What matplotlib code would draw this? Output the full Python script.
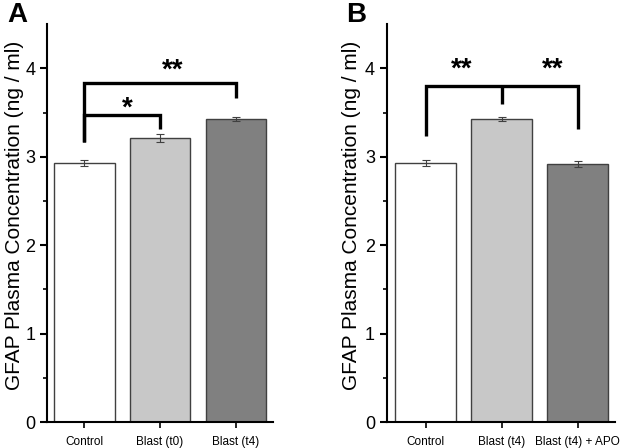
import matplotlib.pyplot as plt
import numpy as np

plt.rcParams['font.family'] = ['Liberation Sans', 'DejaVu Sans']

# panel A
labels_a = ["Control", "Blast (t0)", "Blast (t4)"]
means_a = [2.93, 3.21, 3.43]
errs_a = [0.035, 0.045, 0.025]

# panel B
labels_b = ["Control", "Blast (t4)", "Blast (t4) + APO"]
means_b = [2.93, 3.43, 2.92]
errs_b = [0.035, 0.025, 0.035]

colors = ["white", "#c8c8c8", "#808080"]

fig = plt.figure(figsize=(6.21, 4.48), dpi=100)
axA = fig.add_axes([0.0757, 0.058, 0.364, 0.888])
axB = fig.add_axes([0.623, 0.058, 0.367, 0.888])


def draw_panel(ax, labels, means, errs, xlim, label_x):
    x = np.arange(len(labels))
    ax.bar(x, means, width=0.8, color=colors, edgecolor="#404040", linewidth=1.0)
    ax.errorbar(x, means, yerr=errs, fmt="none", ecolor="#404040",
                elinewidth=0.8, capsize=3, capthick=0.8)
    ax.set_ylim(0, 4.5)
    ax.set_xlim(*xlim)
    ax.set_xticks(x)
    ax.set_xticklabels(labels, fontsize=8.5)
    ax.set_yticks([0, 1, 2, 3, 4])
    ax.set_yticks(np.arange(0.5, 4.5, 1.0), minor=True)
    ax.tick_params(axis="y", labelsize=13, width=1.5, length=5)
    ax.tick_params(axis="y", which="minor", width=1.2, length=3)
    ax.tick_params(axis="x", width=1.2, length=4, pad=6)
    ax.spines["top"].set_visible(False)
    ax.spines["right"].set_visible(False)
    ax.spines["left"].set_linewidth(1.5)
    ax.spines["bottom"].set_linewidth(1.5)
    ax.set_ylabel("GFAP Plasma Concentration (ng / ml)", fontsize=15,
                  va="center")
    ax.yaxis.set_label_coords(label_x, 0.52)


def bracket(ax, xs, ys, star_x, star_y, text):
    ax.plot(xs, ys, color="black", linewidth=2.4, solid_capstyle="butt",
            solid_joinstyle="miter")
    ax.text(star_x, star_y, text, ha="center", va="center", fontsize=20,
            fontweight="bold")


draw_panel(axA, labels_a, means_a, errs_a, (-0.49, 2.49), -0.142)
draw_panel(axB, labels_b, means_b, errs_b, (-0.51, 2.49), -0.154)

# significance brackets, panel A
bracket(axA, [0, 0, 1, 1], [3.17, 3.47, 3.47, 3.32], 0.57, 3.55, "*")
bracket(axA, [0, 0, 2, 2], [3.17, 3.83, 3.83, 3.67], 1.16, 3.97, "**")

# significance brackets, panel B
bracket(axB, [0, 0, 2, 2], [3.24, 3.80, 3.80, 3.32], 0.47, 3.99, "**")
bracket(axB, [1, 1], [3.80, 3.60], 1.67, 3.99, "**")

fig.text(0.012, 0.995, "A", fontsize=20, fontweight="bold", va="top")
fig.text(0.557, 0.995, "B", fontsize=20, fontweight="bold", va="top")

fig.savefig("out.png", dpi=100)
